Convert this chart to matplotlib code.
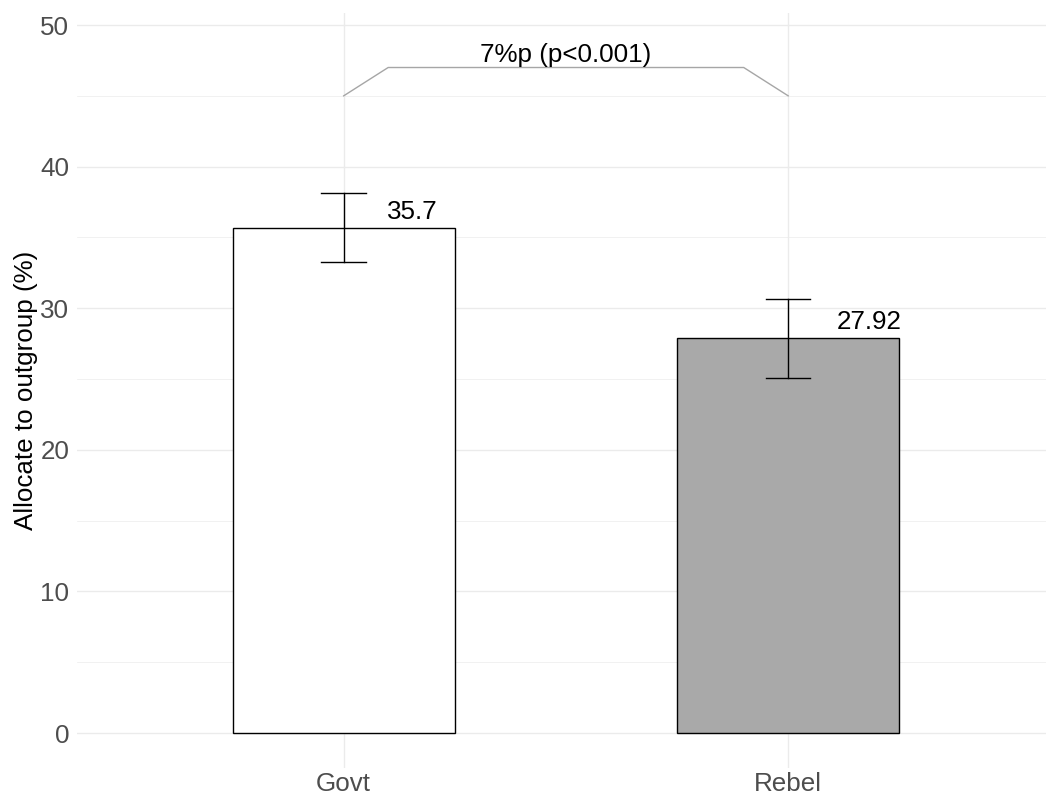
import matplotlib
matplotlib.use("Agg")
import matplotlib.pyplot as plt
from matplotlib.ticker import MultipleLocator

plt.rcParams['font.family'] = ['Liberation Sans', 'DejaVu Sans']

# data
groups = ['Govt', 'Rebel']
means = [35.7, 27.92]
err_low = [33.26, 25.09]
err_high = [38.11, 30.65]
labels = ['35.7', '27.92']
bar_colors = ['white', '#A9A9A9']
diff_label = '7%p (p<0.001)'
bracket_low = 45
bracket_high = 47

W, H = 1046, 799
fig = plt.figure(figsize=(W / 100, H / 100), dpi=100)
# panel box in pixels: left 77, right 1046, top 13, bottom 768
ax = fig.add_axes([77 / W, (H - 768) / H, (W - 77) / W, (768 - 13) / H])

xs = [1, 2]
grid_col = '#EBEBEB'

# grid
ax.set_xlim(0.4, 2.58)
ax.set_ylim(-2.47, 50.85)
ax.yaxis.set_major_locator(MultipleLocator(10))
ax.yaxis.set_minor_locator(MultipleLocator(5))
ax.set_xticks(xs)
ax.set_xticklabels(groups)
ax.grid(which='major', axis='both', color=grid_col, linewidth=1.0)
ax.grid(which='minor', axis='y', color=grid_col, linewidth=0.5)
ax.set_axisbelow(True)
for s in ax.spines.values():
    s.set_visible(False)
ax.tick_params(which='both', length=0)
ax.tick_params(axis='y', pad=5.5, labelsize=18.7, labelcolor='#4D4D4D')
ax.tick_params(axis='x', pad=3, labelsize=18.7, labelcolor='#4D4D4D')

# bars
ax.bar(xs, means, width=0.5, color=bar_colors, edgecolor='black', linewidth=1.0, zorder=2)

# error bars
cap = 0.05
for x, lo, hi in zip(xs, err_low, err_high):
    ax.plot([x, x], [lo, hi], color='black', lw=1.0, zorder=3)
    ax.plot([x - cap, x + cap], [lo, lo], color='black', lw=1.0, zorder=3)
    ax.plot([x - cap, x + cap], [hi, hi], color='black', lw=1.0, zorder=3)

# value labels
label_dx = [0.098, 0.110]
for x, m, lab, dx in zip(xs, means, labels, label_dx):
    ax.annotate(lab, (x + dx, m), xytext=(0, 6.4), textcoords='offset points',
                ha='left', va='baseline', fontsize=18.7, color='black', zorder=4)

# significance bracket
ax.plot([xs[0], xs[0] + 0.1, xs[1] - 0.1, xs[1]],
        [bracket_low, bracket_high, bracket_high, bracket_low],
        color='#A6A6A6', lw=1.0, zorder=3)
ax.annotate(diff_label, ((xs[0] + xs[1]) / 2, bracket_high), xytext=(0, 4.3),
            textcoords='offset points', ha='center', va='baseline',
            fontsize=18.7, color='black')

fig.text(26 / W, (H - 390) / H, 'Allocate to outgroup (%)', rotation=90,
         ha='center', va='center', fontsize=18.7, color='black')

fig.savefig('out.png', dpi=100, facecolor='white')
